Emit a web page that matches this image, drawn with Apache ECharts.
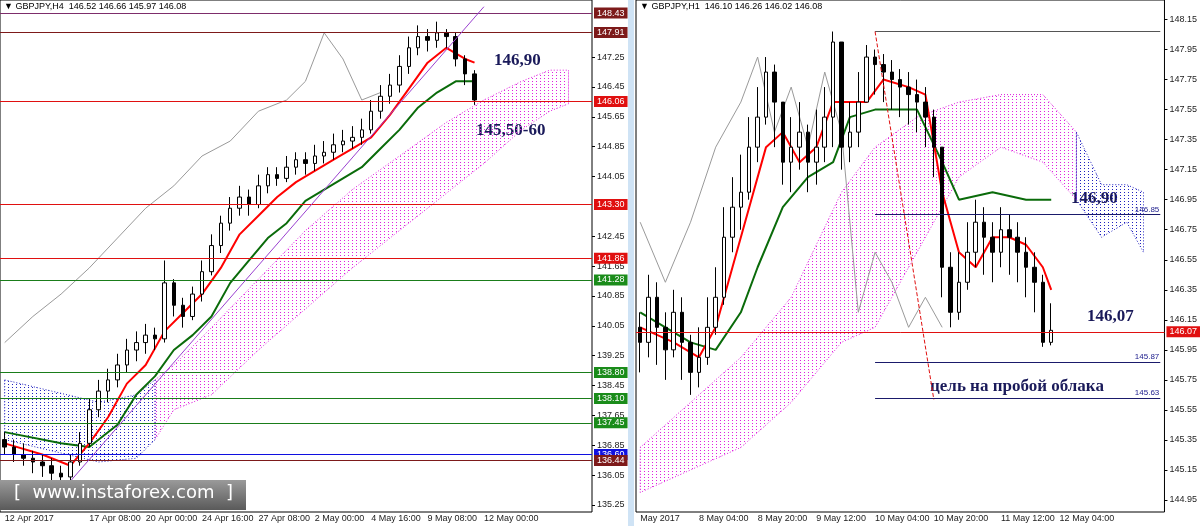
<!DOCTYPE html>
<html>
<head>
<meta charset="utf-8">
<script src="https://cdn.jsdelivr.net/npm/echarts@6/dist/echarts.min.js"></script>
<style>
  html, body { margin: 0; padding: 0; background: #fff; }
  #chart-container { width: 1200px; height: 526px; }
</style>
</head>
<body>
<div id="chart-container"></div>
<script>
// ---- left panel: GBPJPY H4 ----
const h4Candles = [ // [open, close, low, high]
  [137.0, 136.8, 136.6, 137.2], [136.8, 136.6, 136.4, 137.0], [136.6, 136.5, 136.3, 136.9],
  [136.5, 136.4, 136.1, 136.7], [136.4, 136.3, 136.0, 136.6], [136.3, 136.1, 135.9, 136.5],
  [136.1, 136.0, 135.7, 136.3], [136.0, 136.4, 135.9, 136.6], [136.4, 136.9, 136.3, 137.2],
  [136.9, 137.8, 136.8, 138.1], [137.8, 138.3, 137.6, 138.6], [138.3, 138.6, 138.0, 138.9],
  [138.6, 139.0, 138.4, 139.3], [139.0, 139.4, 138.8, 139.7], [139.4, 139.6, 139.1, 139.9],
  [139.6, 139.8, 139.3, 140.1], [139.8, 139.7, 139.4, 140.0], [139.7, 141.2, 139.6, 141.8],
  [141.2, 140.6, 140.3, 141.3], [140.6, 140.3, 140.0, 140.8], [140.3, 140.9, 140.2, 141.1],
  [140.9, 141.5, 140.7, 141.8], [141.5, 142.2, 141.4, 142.5], [142.2, 142.8, 142.0, 143.0],
  [142.8, 143.2, 142.6, 143.5], [143.2, 143.5, 143.0, 143.8], [143.5, 143.3, 143.0, 143.7],
  [143.3, 143.8, 143.2, 144.1], [143.8, 144.1, 143.6, 144.3], [144.1, 144.0, 143.8, 144.3],
  [144.0, 144.3, 143.9, 144.6], [144.3, 144.5, 144.1, 144.7], [144.5, 144.4, 144.1, 144.7],
  [144.4, 144.6, 144.2, 144.9], [144.6, 144.7, 144.4, 145.0], [144.7, 144.9, 144.5, 145.2],
  [144.9, 145.0, 144.7, 145.3], [145.0, 145.1, 144.8, 145.4], [145.1, 145.3, 144.9, 145.6],
  [145.3, 145.8, 145.2, 146.1], [145.8, 146.2, 145.6, 146.5], [146.2, 146.5, 146.0, 146.8],
  [146.5, 147.0, 146.3, 147.3], [147.0, 147.5, 146.8, 147.8], [147.5, 147.8, 147.3, 148.1],
  [147.8, 147.7, 147.4, 148.0], [147.7, 147.9, 147.5, 148.2], [147.9, 147.8, 147.5, 148.0],
  [147.8, 147.2, 147.0, 147.9], [147.2, 146.8, 146.5, 147.3], [146.8, 146.1, 145.97, 146.9]
];
const h4Tenkan = [[0,136.9],[4,136.6],[7,136.3],[9,136.9],[11,137.6],[13,138.5],[15,139.0],[17,139.9],
  [19,140.4],[21,140.9],[23,141.6],[25,142.5],[27,143.0],[29,143.5],[31,143.9],[33,144.2],[35,144.5],
  [37,144.8],[39,145.1],[41,145.7],[43,146.4],[45,147.1],[47,147.5],[49,147.2],[50,147.1]];
const h4Kijun = [[0,137.2],[6,136.9],[9,136.8],[12,137.4],[14,138.2],[16,138.7],[18,139.4],[20,139.8],
  [22,140.3],[24,141.2],[26,141.8],[28,142.4],[30,142.8],[32,143.4],[34,143.7],[36,144.0],[38,144.3],
  [40,144.8],[42,145.3],[44,145.9],[46,146.3],[48,146.6],[50,146.6]];
const h4Chikou = [[0,139.6],[3,140.3],[6,140.9],[9,141.6],[12,142.4],[15,143.2],[18,143.8],[21,144.6],
  [24,145.0],[27,145.8],[30,146.1],[32,146.6],[34,147.9],[36,147.2],[38,146.1],[40,146.3]];
const h4Cloud = [ // [index, lower, upper]
  [0,137.0,138.6],[5,136.7,138.3],[10,136.4,138.0],[14,136.5,138.2],[16,137.0,138.6],
  [18,137.8,139.0],[22,138.2,140.0],[27,139.4,141.3],[32,140.5,142.6],[37,141.6,143.7],
  [42,142.6,144.6],[47,143.6,145.5],[51,144.4,146.1],[55,145.3,146.6],[58,145.8,146.9],[60,146.0,146.9]
];
const h4CloudBlueEnd = 16;
const h4Levels = [
  { v: 148.43, c: '#7d2d6b', tag: '#7d1a1a' }, { v: 147.91, c: '#7d1a1a', tag: '#7d1a1a' },
  { v: 146.06, c: '#e01010', tag: '#e01010' }, { v: 143.30, c: '#e01010', tag: '#e01010' },
  { v: 141.86, c: '#e01010', tag: '#e01010' }, { v: 141.28, c: '#1a7d1a', tag: '#1a8c1a' },
  { v: 138.80, c: '#1a7d1a', tag: '#1a8c1a' }, { v: 138.10, c: '#1a7d1a', tag: '#1a8c1a' },
  { v: 137.45, c: '#1a7d1a', tag: '#1a8c1a' }, { v: 136.60, c: '#1010e0', tag: '#1010e0' },
  { v: 136.44, c: '#7d1a1a', tag: '#7d1a1a' }
];
const h4Ticks = [147.25, 146.45, 145.65, 144.85, 144.05, 142.45, 141.65, 140.85, 140.05,
  139.25, 138.45, 137.65, 136.85, 136.05, 135.25];
const h4TimeLabels = { 0: '12 Apr 2017', 9: '17 Apr 08:00', 15: '20 Apr 00:00', 21: '24 Apr 16:00',
  27: '27 Apr 08:00', 33: '2 May 00:00', 39: '4 May 16:00', 45: '9 May 08:00', 51: '12 May 00:00' };
const h4Trend = [[6, 135.6], [51, 148.6]];

// ---- right panel: GBPJPY H1 ----
const h1Closes = [146.0, 146.3, 146.1, 145.95, 146.2, 146.0, 145.8, 145.9, 146.1, 146.3,
  146.7, 146.9, 147.0, 147.3, 147.5, 147.8, 147.6, 147.2, 147.3, 147.4, 147.2, 147.3,
  147.5, 148.0, 147.3, 147.4, 147.6, 147.9, 147.85, 147.8, 147.75, 147.7, 147.65, 147.6,
  147.5, 147.3, 146.5, 146.2, 146.4, 146.6, 146.8, 146.7, 146.6, 146.75, 146.7, 146.6,
  146.5, 146.4, 146.0, 146.08];
const h1Highs = [146.2, 146.45, 146.4, 146.2, 146.35, 146.3, 146.05, 146.1, 146.3, 146.5,
  146.9, 147.1, 147.25, 147.5, 147.7, 147.9, 147.85, 147.6, 147.5, 147.6, 147.45, 147.55,
  147.7, 148.07, 147.9, 147.6, 147.8, 147.98, 147.95, 147.92, 147.88, 147.82, 147.8, 147.75,
  147.7, 147.55, 147.3, 146.6, 146.6, 146.8, 146.95, 146.9, 146.8, 146.9, 146.85, 146.8,
  146.7, 146.6, 146.45, 146.26];
const h1Lows = [145.8, 145.9, 145.85, 145.75, 145.9, 145.75, 145.65, 145.7, 145.85, 146.05,
  146.25, 146.6, 146.75, 146.95, 147.2, 147.45, 147.3, 147.05, 147.0, 147.15, 147.0, 147.05,
  147.2, 147.3, 147.15, 147.2, 147.3, 147.6, 147.65, 147.6, 147.55, 147.5, 147.45, 147.4,
  147.3, 147.1, 146.3, 146.1, 146.15, 146.35, 146.5, 146.45, 146.4, 146.5, 146.45, 146.4,
  146.3, 146.2, 145.97, 145.98];
const h1Open0 = 146.1;
const h1Tenkan = [[0,146.1],[4,146.0],[7,145.9],[9,146.1],[11,146.5],[13,146.9],[15,147.3],[17,147.4],
  [19,147.2],[21,147.3],[23,147.6],[25,147.6],[27,147.6],[29,147.75],[32,147.7],[34,147.65],
  [36,147.0],[38,146.6],[40,146.5],[42,146.7],[44,146.7],[46,146.65],[48,146.5],[49,146.35]];
const h1Kijun = [[0,146.2],[6,146.0],[9,145.95],[12,146.2],[14,146.5],[17,146.9],[20,147.1],
  [23,147.2],[25,147.5],[28,147.55],[33,147.55],[36,147.2],[38,146.95],[42,147.0],[46,146.95],[49,146.95]];
const h1Chikou = [[0,146.8],[3,146.4],[6,146.8],[9,147.3],[12,147.6],[14,147.9],[16,147.4],[18,147.7],
  [20,147.3],[22,147.8],[24,147.4],[26,146.2],[28,146.6],[30,146.4],[32,146.1],[34,146.3],[36,146.1]];
const h1Cloud = [
  [0,145.0,145.3],[6,145.15,145.6],[12,145.3,145.9],[18,145.6,146.3],[24,146.0,147.0],
  [28,146.1,147.3],[33,146.6,147.5],[38,147.1,147.6],[43,147.3,147.65],[48,147.2,147.65],
  [52,146.95,147.4],[55,146.7,147.05],[58,146.8,147.05],[60,146.6,147.0]
];
const h1CloudBlueStart = 52;
const h1Ticks = [148.15, 147.95, 147.75, 147.55, 147.35, 147.15, 146.95, 146.75, 146.55,
  146.35, 146.15, 145.95, 145.75, 145.55, 145.35, 145.15, 144.95];
const h1TimeLabels = { 0: 'May 2017', 7: '8 May 04:00', 14: '8 May 20:00', 21: '9 May 12:00',
  28: '10 May 04:00', 35: '10 May 20:00', 43: '11 May 12:00', 50: '12 May 04:00' };
const h1Levels = [
  { v: 148.07, c: '#555', from: 28, label: '' }, { v: 146.85, c: '#1a1a6b', from: 28, label: '146.85' },
  { v: 146.07, c: '#e01010', from: 0, label: '146.07', tag: true },
  { v: 145.87, c: '#1a1a6b', from: 28, label: '145.87' }, { v: 145.63, c: '#1a1a6b', from: 28, label: '145.63' }
];
const h1Target = [[28, 148.07], [35, 145.62]];

const N4 = 63, N1 = 63;
const cats4 = Array.from({ length: N4 }, (_, i) => String(i));
const cats1 = Array.from({ length: N1 }, (_, i) => String(i));

function dotPattern(color) {
  const c = document.createElement('canvas');
  c.width = 4; c.height = 3;
  const g = c.getContext('2d');
  g.fillStyle = color;
  g.fillRect(0, 0, 1, 1);
  return { image: c, repeat: 'repeat' };
}

function cloudSeries(points, xi, yi, split, blueBefore) {
  const pink = points.filter(p => blueBefore ? p[0] >= split : p[0] <= split);
  const blue = points.filter(p => blueBefore ? p[0] <= split : p[0] >= split);
  const mk = (pts, color) => ({
    type: 'custom', xAxisIndex: xi, yAxisIndex: yi, silent: true, z: 1,
    data: pts,
    renderItem: (params, api) => {
      if (params.dataIndex !== 0) return;
      const up = pts.map(p => api.coord([p[0], p[2]]));
      const lo = pts.map(p => api.coord([p[0], p[1]])).reverse();
      return {
        type: 'polygon',
        shape: { points: up.concat(lo) },
        style: { fill: dotPattern(color), stroke: color, lineWidth: 1, lineDash: [1, 2] }
      };
    }
  });
  return [mk(pink, '#e020e0'), mk(blue, '#2020c0')];
}

function line(data, xi, color, width, type) {
  return { type: 'line', xAxisIndex: xi, yAxisIndex: xi, data, showSymbol: false, silent: true,
    lineStyle: { color, width, type: type || 'solid' }, z: 3 };
}

const h4Ohlc = h4Candles.map(d => [d[0], d[1], d[2], d[3]]);
const h1Ohlc = h1Closes.map((c, i) => [i === 0 ? h1Open0 : h1Closes[i - 1], c, h1Lows[i], h1Highs[i]]);

const axisFont = { fontFamily: 'Liberation Sans', fontSize: 9, color: '#222' };

const option = {
  backgroundColor: '#fff',
  animation: false,
  grid: [
    { left: 0, top: 0, width: 592, height: 512, show: true, borderColor: '#000', borderWidth: 1 },
    { left: 636, top: 0, width: 532, height: 512, show: true, borderColor: '#000', borderWidth: 1 }
  ],
  xAxis: [
    { type: 'category', gridIndex: 0, data: cats4, boundaryGap: true,
      axisLine: { show: false }, axisTick: { show: false }, splitLine: { show: false },
      axisLabel: { ...axisFont, margin: 2, interval: 0, align: 'left',
        formatter: (v, i) => h4TimeLabels[i] || '' } },
    { type: 'category', gridIndex: 1, data: cats1, boundaryGap: true,
      axisLine: { show: false }, axisTick: { show: false }, splitLine: { show: false },
      axisLabel: { ...axisFont, margin: 2, interval: 0, align: 'left',
        formatter: (v, i) => h1TimeLabels[i] || '' } }
  ],
  yAxis: [
    { type: 'value', gridIndex: 0, position: 'right', min: 135.06, max: 148.78, scale: true,
      splitLine: { show: false }, axisLine: { show: false },
      axisTick: { show: true, customValues: h4Ticks, length: 3, lineStyle: { color: '#000' } },
      axisLabel: { ...axisFont, customValues: h4Ticks, margin: 5, formatter: v => v.toFixed(2) } },
    { type: 'value', gridIndex: 1, position: 'right', min: 144.87, max: 148.28, scale: true,
      splitLine: { show: false }, axisLine: { show: false },
      axisTick: { show: true, customValues: h1Ticks, length: 3, lineStyle: { color: '#000' } },
      axisLabel: { ...axisFont, customValues: h1Ticks, margin: 5, formatter: v => v.toFixed(2) } }
  ],
  series: [
    ...cloudSeries(h4Cloud, 0, 0, h4CloudBlueEnd, true),
    ...cloudSeries(h1Cloud, 1, 1, h1CloudBlueStart, false),
    line(h4Chikou, 0, '#9a9a9a', 1),
    line(h1Chikou, 1, '#9a9a9a', 1),
    {
      type: 'candlestick', xAxisIndex: 0, yAxisIndex: 0, data: h4Ohlc, barWidth: 4, z: 4,
      itemStyle: { color: '#fff', color0: '#000', borderColor: '#000', borderColor0: '#000', borderWidth: 1 },
      markLine: {
        silent: true, symbol: 'none', animation: false,
        data: h4Levels.map(l => ({
          yAxis: l.v,
          lineStyle: { color: l.c, width: 1, type: 'solid' },
          label: { show: true, position: 'end', formatter: l.v.toFixed(2), color: '#fff',
            backgroundColor: l.tag, padding: [1, 3], fontSize: 9, fontFamily: 'Liberation Sans', distance: 2 }
        })).concat([[
          { coord: h4Trend[0], lineStyle: { color: '#9a40d0', width: 1, type: 'solid' }, label: { show: false } },
          { coord: h4Trend[1] }
        ]])
      }
    },
    {
      type: 'candlestick', xAxisIndex: 1, yAxisIndex: 1, data: h1Ohlc, barWidth: 4, z: 4,
      itemStyle: { color: '#fff', color0: '#000', borderColor: '#000', borderColor0: '#000', borderWidth: 1 },
      markLine: {
        silent: true, symbol: 'none', animation: false,
        data: h1Levels.map(l => l.tag ? {
          yAxis: l.v, lineStyle: { color: l.c, width: 1, type: 'solid' },
          label: { show: true, position: 'end', formatter: l.label, color: '#fff', backgroundColor: l.c,
            padding: [1, 3], fontSize: 9, fontFamily: 'Liberation Sans', distance: 2 }
        } : [
          { coord: [l.from, l.v], lineStyle: { color: l.c, width: 1, type: 'solid' },
            label: { show: !!l.label, position: 'insideEndTop', formatter: l.label, color: '#1a1a8b',
              fontSize: 8, fontFamily: 'Liberation Sans', distance: 1 } },
          { coord: [N1 - 1, l.v] }
        ]).concat([[
          { coord: h1Target[0], lineStyle: { color: '#e01010', width: 1, type: 'dashed' }, label: { show: false } },
          { coord: h1Target[1] }
        ]])
      }
    },
    line(h4Kijun, 0, '#0a6b0a', 2),
    line(h4Tenkan, 0, '#ff0000', 2),
    line(h1Kijun, 1, '#0a6b0a', 2),
    line(h1Tenkan, 1, '#ff0000', 2)
  ],
  graphic: [
    { type: 'text', left: 4, top: 2, style: { text: '▼ GBPJPY,H4  146.52 146.66 145.97 146.08', font: '9px Liberation Sans', fill: '#000' } },
    { type: 'text', left: 640, top: 2, style: { text: '▼ GBPJPY,H1  146.10 146.26 146.02 146.08', font: '9px Liberation Sans', fill: '#000' } },
    { type: 'text', left: 494, top: 52, style: { text: '146,90', font: 'bold 17px Liberation Serif', fill: '#1a1a5a' } },
    { type: 'text', left: 476, top: 122, style: { text: '145,50-60', font: 'bold 17px Liberation Serif', fill: '#1a1a5a' } },
    { type: 'text', left: 1071, top: 190, style: { text: '146,90', font: 'bold 17px Liberation Serif', fill: '#1a1a5a' } },
    { type: 'text', left: 1087, top: 308, style: { text: '146,07', font: 'bold 17px Liberation Serif', fill: '#1a1a5a' } },
    { type: 'text', left: 930, top: 378, style: { text: 'цель на пробой облака', font: 'bold 17px Liberation Serif', fill: '#1a1a5a' } },
    { type: 'rect', left: 0, top: 480, shape: { width: 246, height: 30 },
      style: { fill: new echarts.graphic.LinearGradient(0, 0, 0, 1, [{ offset: 0, color: '#9a9a9a' }, { offset: 1, color: '#5a5a5a' }]) }, z: 10 },
    { type: 'text', left: 14, top: 484, z: 11, style: { text: '[  www.instaforex.com  ]', font: '18px DejaVu Sans', fill: '#fff' } },
    { type: 'rect', left: 628, top: 0, shape: { width: 6, height: 526 }, style: { fill: '#cfe3f5' }, z: 0 }
  ]
};

const myChart = echarts.init(document.getElementById('chart-container'), null, { renderer: 'canvas' });
myChart.setOption(option);
window.addEventListener('resize', myChart.resize);
</script>
</body>
</html>
